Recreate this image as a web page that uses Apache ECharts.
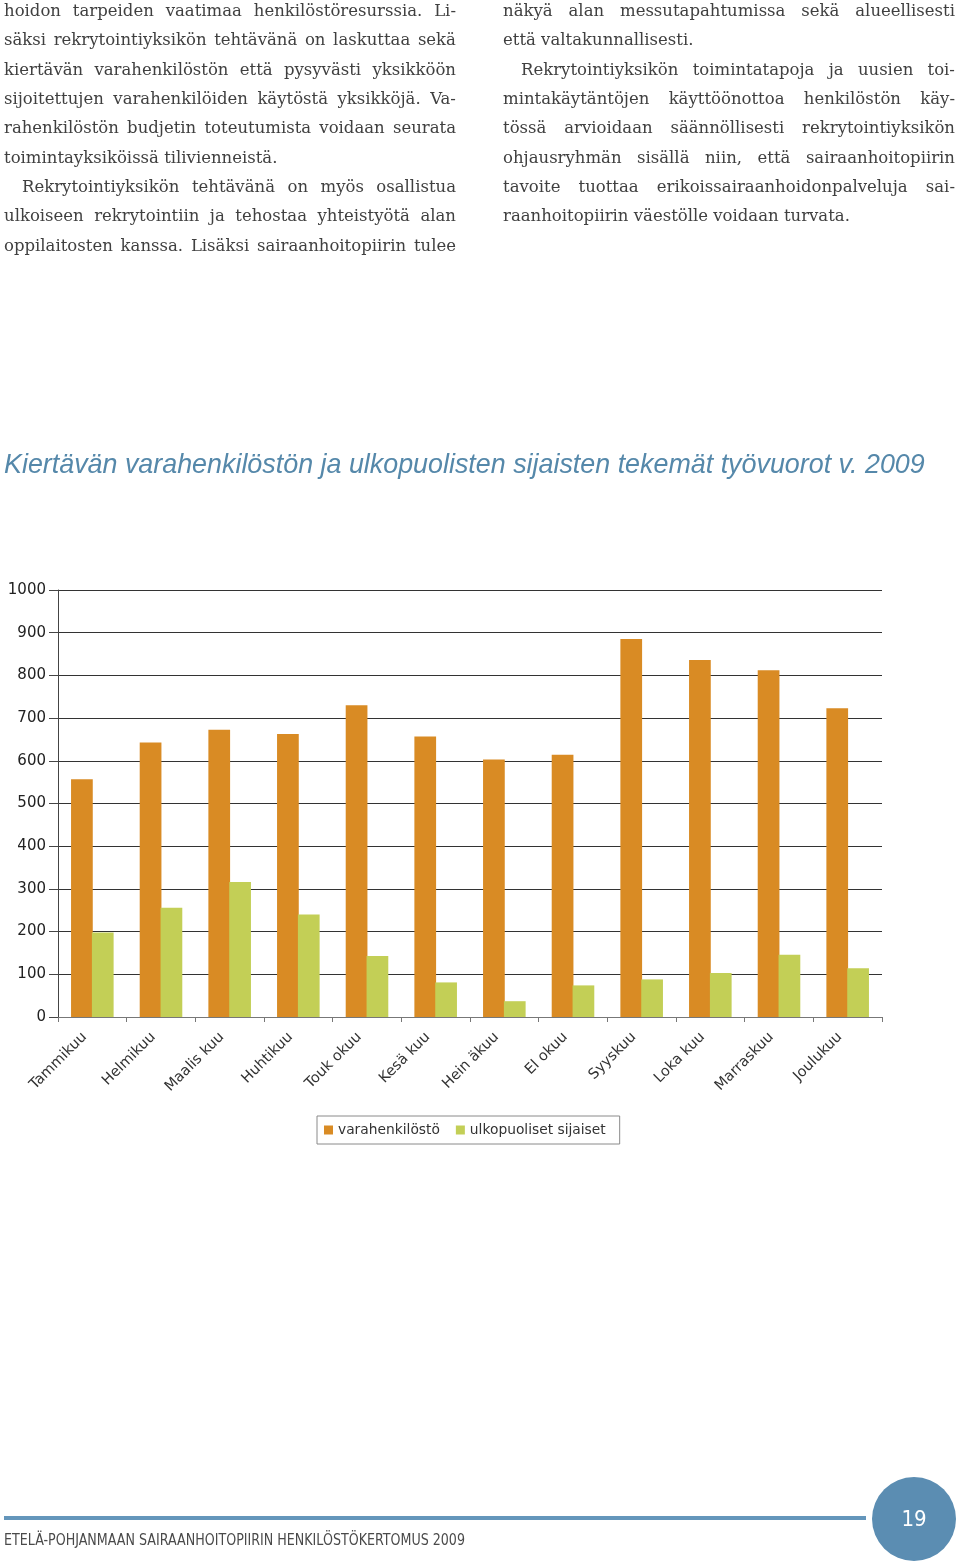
<!DOCTYPE html>
<html>
<head>
<meta charset="utf-8">
<script src="https://cdn.jsdelivr.net/npm/echarts@6/dist/echarts.min.js"></script>
<style>
  html, body { margin: 0; padding: 0; background: #fff; }
  #page { position: relative; width: 960px; height: 1564px; overflow: hidden; }
  #chart { position: absolute; left: 0; top: 0; width: 960px; height: 1564px; }
  .col { position: absolute; top: -4px; width: 452px; font-family: "DejaVu Serif", "Liberation Serif", serif; font-size: 16.5px; color: #404040; }
  .ln { height: 29.35px; line-height: 29.35px; white-space: nowrap; }
  .ln.j { display: flex; justify-content: space-between; }
  .ln.ind { padding-left: 18px; }
  #footer-text { position: absolute; left: 4px; top: 1531px; font-family: "Liberation Sans Narrow", "DejaVu Sans Condensed", "Liberation Sans", sans-serif; font-size: 15px; color: #4a4a4a; white-space: nowrap; transform-origin: 0 0; }
</style>
</head>
<body>
<div id="page">
  <div id="chart"></div>
  <div class="col" id="leftCol" style="left:4px"></div>
  <div class="col" id="rightCol" style="left:503px"></div>
  <div id="footer-text">ETELÄ-POHJANMAAN SAIRAANHOITOPIIRIN HENKILÖSTÖKERTOMUS 2009</div>
</div>
<script>
// ---- Data ----
const months = ["Tammikuu", "Helmikuu", "Maalis kuu", "Huhtikuu", "Touk okuu", "Kesä kuu",
                "Hein äkuu", "El okuu", "Syyskuu", "Loka kuu", "Marraskuu", "Joulukuu"];
const varahenkilosto = [557, 643, 673, 663, 730, 657, 603, 614, 885, 836, 812, 723];
const ulkopuoliset = [198, 256, 316, 240, 143, 81, 37, 74, 88, 103, 146, 114];
const yTicks = { min: 0, max: 1000, interval: 100 };
const seriesNames = ["varahenkilöstö", "ulkopuoliset sijaiset"];
const chartTitle = "Kiertävän varahenkilöstön ja ulkopuolisten sijaisten tekemät työvuorot v. 2009";
const pageNumber = "19";

// ---- Body text (line by line, j = justified, i = indented) ----
const leftLines = [
  ["hoidon tarpeiden vaatimaa henkilöstöresurssia. Li-", "j"],
  ["säksi rekrytointiyksikön tehtävänä on laskuttaa sekä", "j"],
  ["kiertävän varahenkilöstön että pysyvästi yksikköön", "j"],
  ["sijoitettujen varahenkilöiden käytöstä yksikköjä. Va-", "j"],
  ["rahenkilöstön budjetin toteutumista voidaan seurata", "j"],
  ["toimintayksiköissä tilivienneistä.", ""],
  ["Rekrytointiyksikön tehtävänä on myös osallistua", "ji"],
  ["ulkoiseen rekrytointiin ja tehostaa yhteistyötä alan", "j"],
  ["oppilaitosten kanssa. Lisäksi sairaanhoitopiirin tulee", "j"]
];
const rightLines = [
  ["näkyä alan messutapahtumissa sekä alueellisesti", "j"],
  ["että valtakunnallisesti.", ""],
  ["Rekrytointiyksikön toimintatapoja ja uusien toi-", "ji"],
  ["mintakäytäntöjen käyttöönottoa henkilöstön käy-", "j"],
  ["tössä arvioidaan säännöllisesti rekrytointiyksikön", "j"],
  ["ohjausryhmän sisällä niin, että sairaanhoitopiirin", "j"],
  ["tavoite tuottaa erikoissairaanhoidonpalveluja sai-", "j"],
  ["raanhoitopiirin väestölle voidaan turvata.", ""]
];

function fillCol(el, lines) {
  lines.forEach(([txt, fl]) => {
    const d = document.createElement('div');
    d.className = 'ln' + (fl.includes('j') ? ' j' : '') + (fl.includes('i') ? ' ind' : '');
    const words = txt.split(' ');
    if (fl.includes('j')) {
      words.forEach(w => { const s = document.createElement('span'); s.textContent = w; d.appendChild(s); });
    } else {
      d.textContent = txt;
    }
    el.appendChild(d);
    if (fl.includes('j')) {
      const avail = 452 - (fl.includes('i') ? 18 : 0);
      let sum = 0;
      d.querySelectorAll('span').forEach(s => sum += s.getBoundingClientRect().width);
      const minGaps = (words.length - 1) * 4;
      if (sum + minGaps > avail) {
        const chars = txt.replace(/ /g, '').length;
        d.style.letterSpacing = ((avail - minGaps - sum) / chars) + 'px';
      }
    }
  });
}
fillCol(document.getElementById('leftCol'), leftLines);
fillCol(document.getElementById('rightCol'), rightLines);

(function(){
  const f = document.getElementById('footer-text');
  const w = f.getBoundingClientRect().width;
  f.style.transform = 'scaleX(' + (461 / w) + ')';
})();

// title font size fitted to the reference title width
const titleFont = '"Liberation Sans", Arial, sans-serif';
const titleSize = (function(){
  const c = document.createElement('canvas').getContext('2d');
  c.font = 'italic 25px ' + titleFont;
  const w = c.measureText(chartTitle).width;
  return Math.min(27, 25 * 921 / w);
})();

const chart = echarts.init(document.getElementById('chart'), null, { renderer: 'canvas' });
const option = {
  backgroundColor: '#fff',
  animation: false,
  title: {
    text: chartTitle,
    left: -1,
    top: 447,
    textStyle: {
      fontFamily: titleFont,
      fontStyle: 'italic',
      fontWeight: 'normal',
      fontSize: titleSize,
      color: '#5588aa'
    }
  },
  legend: {
    data: seriesNames,
    left: 317,
    top: 1116,
    orient: 'horizontal',
    icon: 'rect',
    itemWidth: 9,
    itemHeight: 9,
    itemGap: 16,
    padding: [7, 14, 7, 7],
    borderColor: '#8a8a8a',
    borderWidth: 1,
    textStyle: { fontFamily: 'DejaVu Sans, sans-serif', fontSize: 13.8, color: '#333' }
  },
  grid: { left: 58, right: 78, top: 590, bottom: 547, containLabel: false },
  xAxis: {
    type: 'category',
    data: months,
    boundaryGap: true,
    axisLine: { show: true, lineStyle: { color: '#777', width: 1 } },
    axisTick: { show: true, length: 5, lineStyle: { color: '#777' } },
    axisLabel: {
      rotate: 45,
      margin: 10,
      padding: [0, 11, 0, 0],
      interval: 0,
      fontFamily: 'DejaVu Sans, sans-serif',
      fontSize: 14.5,
      color: '#333'
    }
  },
  yAxis: {
    type: 'value',
    min: yTicks.min,
    max: yTicks.max,
    interval: yTicks.interval,
    axisLine: { show: true, lineStyle: { color: '#444', width: 1 } },
    axisTick: { show: true, length: 9, lineStyle: { color: '#444' } },
    axisLabel: { margin: 12, fontFamily: 'DejaVu Sans, sans-serif', fontSize: 15, color: '#222', formatter: v => String(v) },
    splitLine: { show: true, lineStyle: { color: '#333', width: 1 } }
  },
  series: [
    {
      name: seriesNames[0],
      type: 'bar',
      data: varahenkilosto,
      itemStyle: { color: '#D98B24' },
      barGap: '-4%',
      barCategoryGap: '38%'
    },
    {
      name: seriesNames[1],
      type: 'bar',
      data: ulkopuoliset,
      itemStyle: { color: '#C3CF56' }
    }
  ],
  graphic: [
    { type: 'rect', shape: { x: 4, y: 1516, width: 862, height: 4 }, style: { fill: '#6496bb' }, silent: true },
    { type: 'circle', shape: { cx: 914, cy: 1519, r: 42 }, style: { fill: '#5b8db2' }, silent: true },
    { type: 'text', x: 914, y: 1520, style: { text: pageNumber, fill: '#fff', fontSize: 22, fontFamily: 'Liberation Sans Narrow, DejaVu Sans Condensed, sans-serif', align: 'center', verticalAlign: 'middle' }, silent: true }
  ]
};
chart.setOption(option);
</script>
</body>
</html>
